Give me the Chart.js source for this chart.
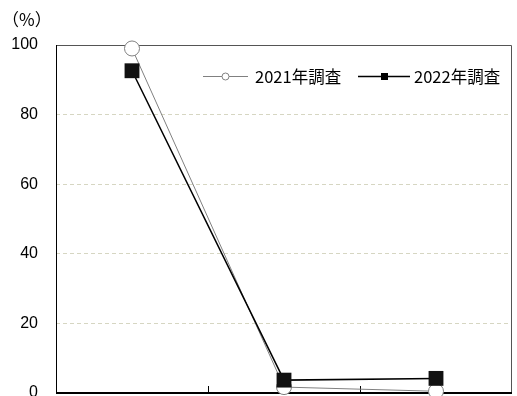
<!DOCTYPE html>
<html>
<head>
<meta charset="utf-8">
<script src="https://cdn.jsdelivr.net/npm/chart.js@4"></script>
<style>
  html, body { margin: 0; padding: 0; background: #fff; }
  #wrap { width: 517px; height: 396px; position: relative; }
</style>
</head>
<body>
<div id="wrap"><canvas id="chart" width="517" height="396"></canvas></div>
<script>
// 調査結果データ
const categories = ["", "", ""];
const series2021 = [99, 1.7, 0.5];
const series2022 = [92.6, 3.7, 4.2];
const yTicks = [0, 20, 40, 60, 80, 100];
const unitLabel = "（%）";
const legendNames = ["2021年調査", "2022年調査"];

const jpFont = '"Noto Sans CJK JP", "Noto Sans", sans-serif';

// 枠線・目盛り・凡例をまとめて描く
const framePlugin = {
  id: "frame",
  beforeDatasetsDraw(chart) {
    const { ctx, chartArea: a, scales } = chart;
    ctx.save();
    // 外枠（上・右）
    ctx.strokeStyle = "#555";
    ctx.lineWidth = 1;
    ctx.beginPath();
    ctx.moveTo(a.left, a.top + 0.5);
    ctx.lineTo(a.right - 0.5, a.top + 0.5);
    ctx.lineTo(a.right - 0.5, a.bottom);
    ctx.stroke();
    // 左軸
    ctx.strokeStyle = "#000";
    ctx.beginPath();
    ctx.moveTo(a.left + 0.5, a.top);
    ctx.lineTo(a.left + 0.5, a.bottom);
    ctx.stroke();
    // 下軸（太め）と内向きの目盛り
    ctx.lineWidth = 2;
    ctx.beginPath();
    ctx.moveTo(a.left, a.bottom);
    ctx.lineTo(a.right, a.bottom);
    ctx.stroke();
    const n = scales.x.ticks.length;
    const step = (a.right - a.left) / n;
    ctx.lineWidth = 1;
    ctx.beginPath();
    for (let i = 1; i < n; i++) {
      const x = Math.round(a.left + i * step) + 0.5;
      ctx.moveTo(x, a.bottom);
      ctx.lineTo(x, a.bottom - 7);
    }
    ctx.stroke();
    ctx.restore();
  },
  afterDraw(chart) {
    const { ctx, chartArea: a } = chart;
    ctx.save();
    // 単位
    ctx.fillStyle = "#000";
    ctx.font = "17px " + jpFont;
    ctx.textAlign = "left";
    ctx.textBaseline = "middle";
    ctx.fillText(unitLabel, 2, 20);

    // 凡例
    ctx.font = "16.5px " + jpFont;
    const y = a.top + 31;
    let x = a.left + 147;
    // 2021
    ctx.strokeStyle = "#808080";
    ctx.lineWidth = 1;
    ctx.beginPath();
    ctx.moveTo(x, y + 0.5);
    ctx.lineTo(x + 45, y + 0.5);
    ctx.stroke();
    ctx.fillStyle = "#fff";
    ctx.beginPath();
    ctx.arc(x + 22.5, y + 0.5, 3.5, 0, Math.PI * 2);
    ctx.fill();
    ctx.stroke();
    ctx.fillStyle = "#000";
    ctx.fillText(legendNames[0], x + 52, y + 1);
    // 2022
    x = a.left + 302;
    ctx.strokeStyle = "#000";
    ctx.lineWidth = 1.5;
    ctx.beginPath();
    ctx.moveTo(x, y + 0.5);
    ctx.lineTo(x + 52, y + 0.5);
    ctx.stroke();
    ctx.fillRect(x + 23, y - 3, 7, 7);
    ctx.fillText(legendNames[1], x + 56, y + 1);
    ctx.restore();
  }
};

new Chart(document.getElementById("chart"), {
  type: "line",
  data: {
    labels: categories,
    datasets: [
      {
        label: legendNames[0],
        data: series2021,
        borderColor: "#808080",
        borderWidth: 1,
        backgroundColor: "#fff",
        pointStyle: "circle",
        pointRadius: 7.5,
        pointBorderColor: "#808080",
        pointBorderWidth: 1,
        pointBackgroundColor: "#fff",
        tension: 0,
        clip: false,
        order: 2,
      },
      {
        label: legendNames[1],
        data: series2022,
        borderColor: "#000",
        borderWidth: 1.5,
        backgroundColor: "#111",
        pointStyle: "rect",
        pointRadius: 10.5,
        pointBorderColor: "#000",
        pointBorderWidth: 0,
        pointBackgroundColor: "#111",
        tension: 0,
        clip: false,
        order: 1,
      },
    ],
  },
  options: {
    responsive: false,
    animation: false,
    layout: { autoPadding: false, padding: { left: 0, top: 45, right: 5, bottom: 3 } },
    plugins: {
      legend: { display: false },
      tooltip: { enabled: false },
    },
    scales: {
      x: {
        display: false,
        offset: true,
      },
      y: {
        min: 0,
        max: 100,
        afterBuildTicks: (s) => { s.ticks = yTicks.map((v) => ({ value: v })); },
        afterFit: (s) => { s.width = 56; s.paddingTop = 0; s.paddingBottom = 0; },
        ticks: {
          color: "#000",
          padding: 18,
          font: { family: '"Liberation Sans", Arial, sans-serif', size: 16 },
        },
        grid: {
          drawTicks: false,
          color: (c) => (c.tick.value === 0 || c.tick.value === 100 ? "rgba(0,0,0,0)" : "#d6d6c2"),
          lineWidth: 1,
        },
        border: { display: false, dash: [4, 3] },
      },
    },
  },
  plugins: [framePlugin],
});
</script>
</body>
</html>
